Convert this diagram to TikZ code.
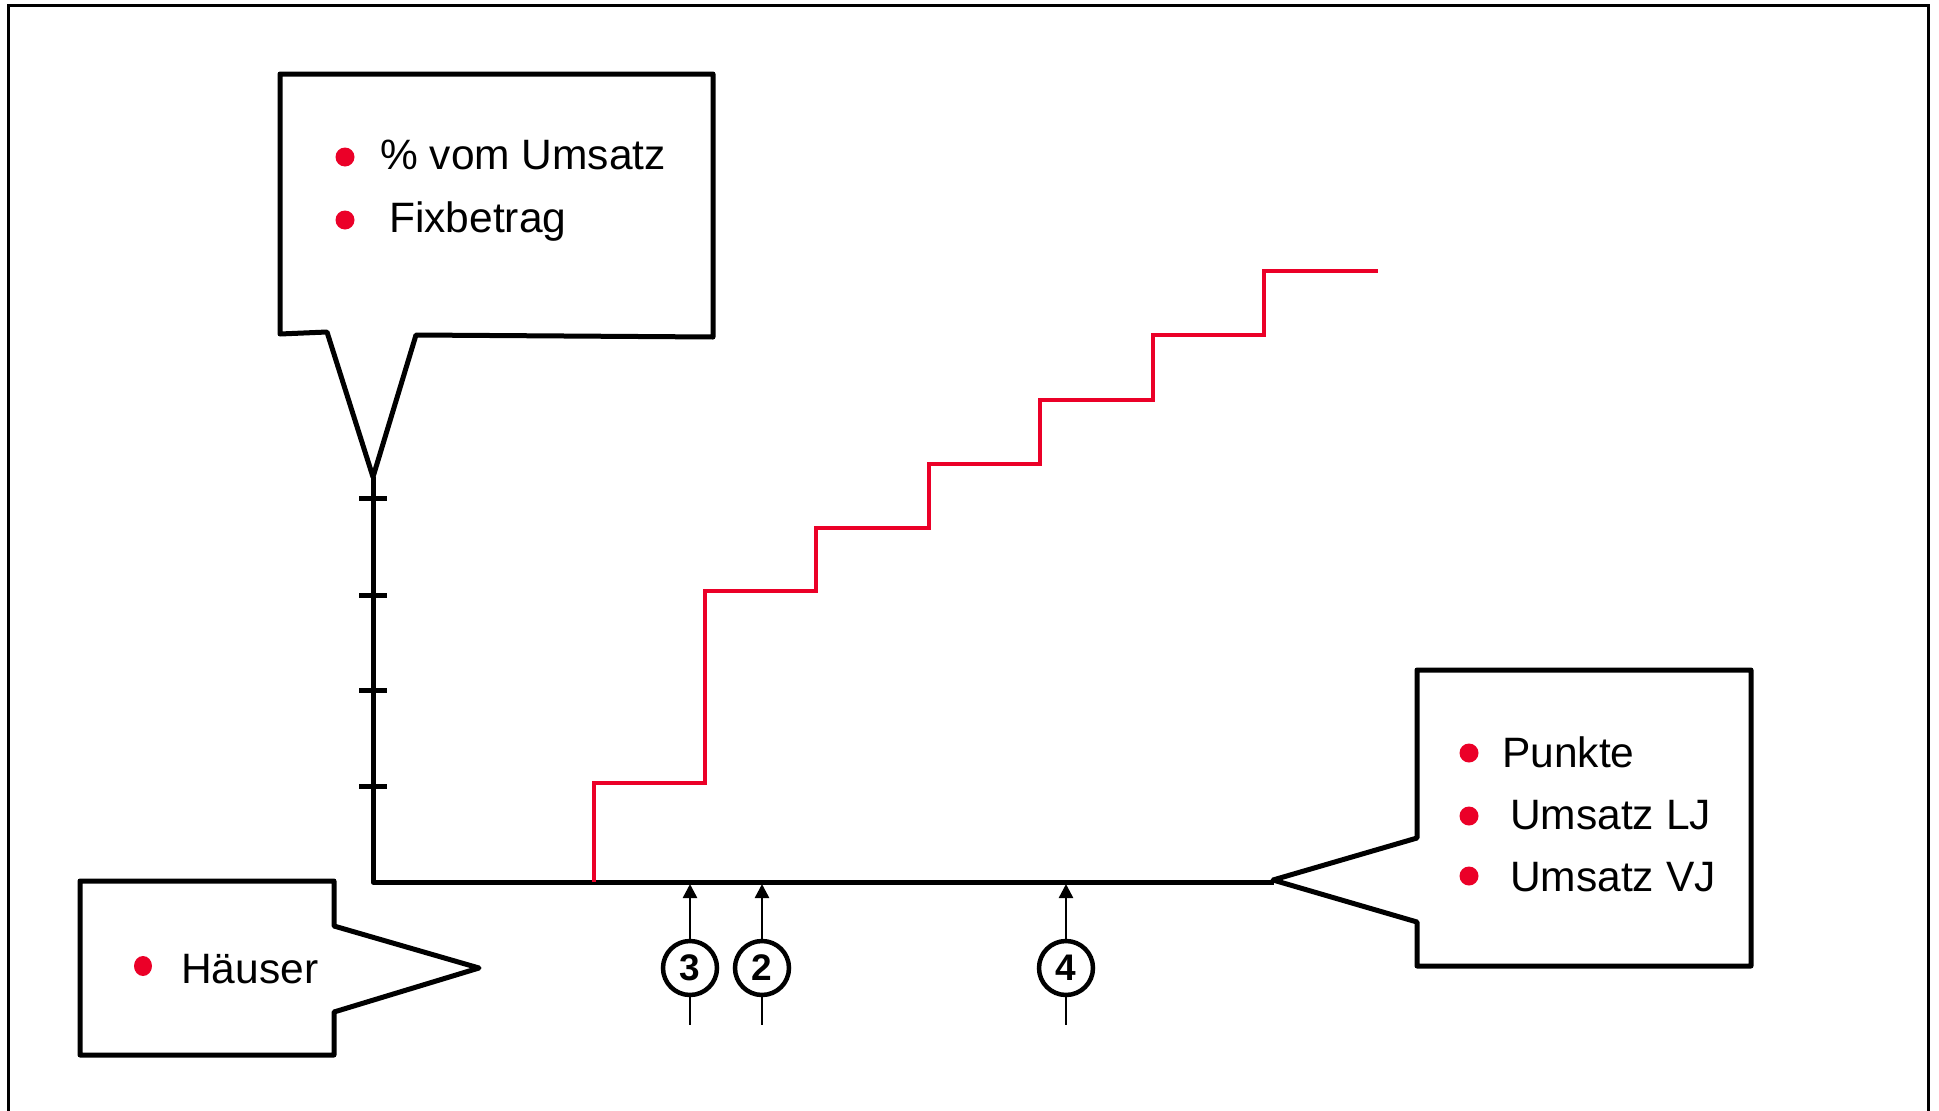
\documentclass[tikz,border=0pt]{standalone}
\usepackage{fontspec}
\setmainfont{Liberation Sans}
\usetikzlibrary{arrows.meta,shapes.geometric}
\definecolor{bulletred}{RGB}{235,0,40}
\tikzset{
  outline/.style={draw=black, line width=5pt, line join=round},
  frameline/.style={draw=black, line width=3pt},
  stair/.style={draw=bulletred, line width=3.5pt},
  bulletdot/.style={circle, fill=bulletred, inner sep=0pt, minimum size=19pt},
  itemtext/.style={anchor=base west, inner sep=0pt, font=\fontsize{42.5}{50}\selectfont},
  numcircle/.style={circle, draw=black, line width=4.5pt, minimum size=54pt, inner sep=0pt, font=\fontsize{37}{40}\selectfont\bfseries},
  marker/.style={draw=black, line width=2.5pt},
  markerarrow/.style={draw=black, line width=2.5pt, -{Triangle[width=14pt,length=14pt]}}
}
\begin{document}
\begin{tikzpicture}[x=1pt, y=-1pt]
\useasboundingbox (0,0) rectangle (1939,1111);
% frame
\draw[frameline] (8.5,1115) -- (8.5,5) -- (1928,5) -- (1928,1115);

% top callout
\draw[outline] (280,74) -- (713,74) -- (713,337) -- (416,335) -- (373,477) -- (327,332) -- (280,334) -- cycle;
\node[bulletdot] (b1) at (345,157) {};
\node[itemtext] (t1) at (380,169) {\% vom Umsatz};
\node[bulletdot] (b2) at (345,220) {};
\node[itemtext] (t2) at (389,232) {Fixbetrag};

% axes
\coordinate (top) at (373,477);
\coordinate (origin) at (373,882);
\coordinate (xend) at (1274,882);
\draw[outline] (top) -- (origin) -- (xend);
\foreach \ty in {498,595,690,786} {
  \draw[outline, line cap=butt] (359,\ty) -- (387,\ty);
}

% staircase
\draw[stair] (594,882) -- (594,783) -- (705,783) -- (705,591) -- (816,591) -- (816,528)
  -- (929,528) -- (929,464) -- (1040,464) -- (1040,400) -- (1153,400) -- (1153,335)
  -- (1264,335) -- (1264,271) -- (1378,271);

% Haeuser callout
\draw[outline] (80,881) -- (334,881) -- (334,926) -- (479,968) -- (334,1012) -- (334,1055) -- (80,1055) -- cycle;
\node[ellipse, fill=bulletred, inner sep=0pt, minimum width=18pt, minimum height=20pt] (b3) at (143,966) {};
\node[itemtext] (t3) at (181,983) {Häuser};

% right callout
\draw[outline] (1417,670) -- (1751,670) -- (1751,966) -- (1417,966) -- (1417,922) -- (1273,880) -- (1417,838) -- cycle;
\node[bulletdot] (b4) at (1469,753) {};
\node[itemtext] (t4) at (1502,767) {Punkte};
\node[bulletdot] (b5) at (1469,816) {};
\node[itemtext] (t5) at (1510,829) {Umsatz LJ};
\node[bulletdot] (b6) at (1469,876) {};
\node[itemtext] (t6) at (1510,891) {Umsatz VJ};

% numbered markers
\node[numcircle] (c3) at (690,968) {3};
\node[numcircle] (c2) at (762,968) {2};
\node[numcircle] (c4) at (1066,968) {4};
\coordinate (a3) at (690,884);
\coordinate (a2) at (762,884);
\coordinate (a4) at (1066,884);
\coordinate (e3) at (690,1025);
\coordinate (e2) at (762,1025);
\coordinate (e4) at (1066,1025);
\foreach \n in {3,2,4} {
  \draw[markerarrow] (c\n.north) -- (a\n);
  \draw[marker] (c\n.south) -- (e\n);
}
\end{tikzpicture}
\end{document}
